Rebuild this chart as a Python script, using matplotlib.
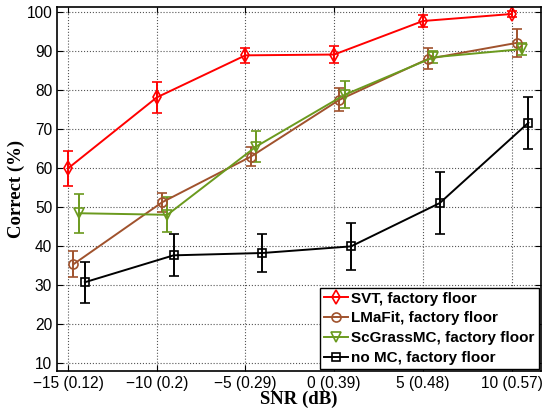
import numpy as np
import matplotlib
matplotlib.use("Agg")
import matplotlib.pyplot as plt
from matplotlib.lines import Line2D

# data
snr_labels = ["\u221215 (0.12)", "\u221210 (0.2)", "\u22125 (0.29)", "0 (0.39)", "5 (0.48)", "10 (0.57)"]

svt = [60.0, 78.2, 89.0, 89.2, 97.8, 99.6]
svt_err = [4.5, 4.0, 2.0, 2.2, 1.5, 0.8]

lmafit = [35.4, 51.3, 63.0, 77.6, 88.1, 92.2]
lmafit_err = [3.3, 2.5, 2.4, 3.0, 2.7, 3.6]

scgrass = [48.5, 48.1, 65.6, 78.9, 88.5, 90.6]
scgrass_err = [5.0, 4.5, 4.0, 3.4, 1.5, 1.5]

nomc = [30.8, 37.7, 38.3, 40.0, 51.1, 71.7]
nomc_err = [5.2, 5.4, 4.9, 6.0, 8.0, 6.6]

series = [
    ("SVT, factory floor", svt, svt_err, "#ff0000", "d", 7.5, 0.0),
    ("LMaFit, factory floor", lmafit, lmafit_err, "#a0522d", "o", 6.5, 0.06),
    ("ScGrassMC, factory floor", scgrass, scgrass_err, "#6b9a1e", "v", 7.0, 0.12),
    ("no MC, factory floor", nomc, nomc_err, "#000000", "s", 6.0, 0.19),
]

fig = plt.figure(figsize=(5.43, 4.11), dpi=100)
ax = fig.add_axes([0.105, 0.097, 0.891, 0.886])

x = np.arange(len(snr_labels))
handles = []
for name, vals, err, col, mk, ms, off in series:
    ax.errorbar(x + off, vals, yerr=err, color=col, marker=mk, markersize=ms,
                markerfacecolor="none", markeredgecolor=col, markeredgewidth=1.2,
                linewidth=1.4, capsize=3.3, capthick=1.4, elinewidth=1.4)
    handles.append(Line2D([], [], color=col, marker=mk, markersize=ms,
                          markerfacecolor="none", markeredgewidth=1.2,
                          linewidth=1.4, label=name))

ax.set_xlim(-0.124, 5.33)
ax.set_ylim(8, 101.4)
ax.set_xticks(x)
ax.set_xticklabels(snr_labels)
ax.set_yticks(np.arange(10, 101, 10))
ax.tick_params(direction="in", top=True, right=True, labelsize=11.2, length=4)
for lab in ax.get_xticklabels() + ax.get_yticklabels():
    lab.set_family("Liberation Sans")
ax.grid(True, linestyle=":", color="#555555", linewidth=0.8)
for s in ax.spines.values():
    s.set_linewidth(1.2)

ax.set_xlabel("SNR (dB)", family="Liberation Serif", fontweight="bold", fontsize=13.5, labelpad=0)
ax.set_ylabel("Correct (%)", family="Liberation Serif", fontweight="bold", fontsize=13.5, labelpad=1)

leg = ax.legend(handles=handles, loc="lower right", fancybox=False, framealpha=1,
                edgecolor="black",
                prop={"family": "Liberation Sans", "weight": "bold", "size": 11},
                handlelength=1.6, handletextpad=0.2, borderpad=0.25, labelspacing=0.38,
                borderaxespad=0.15)
leg.get_frame().set_linewidth(1.0)

fig.savefig("out.png", dpi=100)
